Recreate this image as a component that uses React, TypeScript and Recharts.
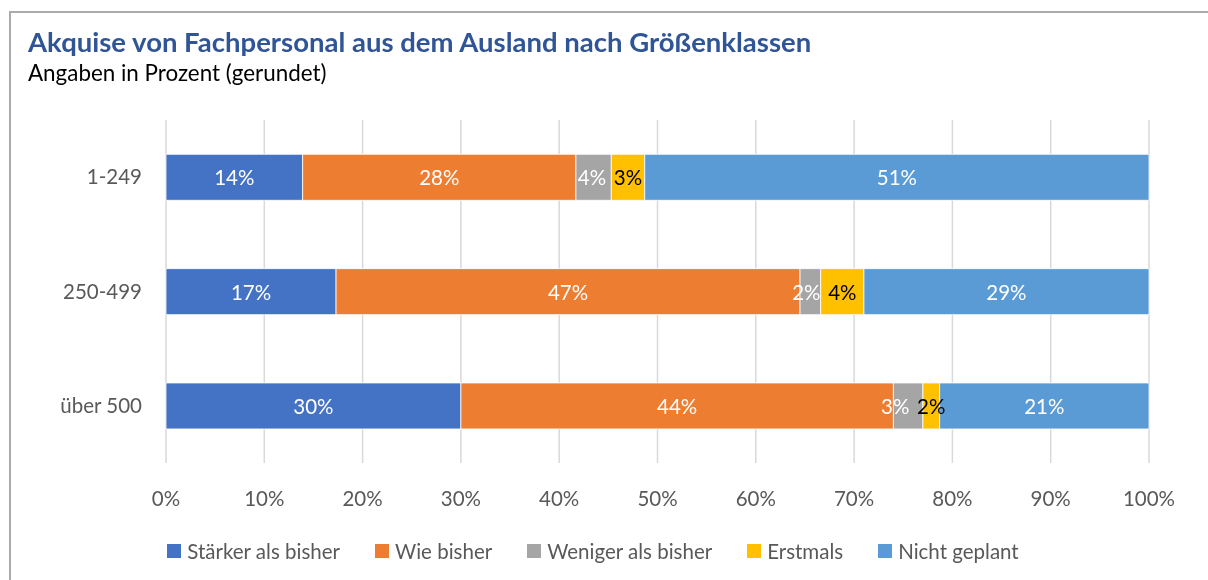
import React from 'react';
import { BarChart, Bar, XAxis, YAxis, CartesianGrid, LabelList, Legend } from 'recharts';

const categories = ['1-249', '250-499', 'über 500'];
const staerker = [13.9, 17.3, 30.0];
const wieBisher = [27.8, 47.2, 44.0];
const weniger = [3.6, 2.1, 3.0];
const erstmals = [3.4, 4.4, 1.7];
const nichtGeplant = [51.3, 29.0, 21.3];
const xTicks = [0, 10, 20, 30, 40, 50, 60, 70, 80, 90, 100];

const seriesNames = ['Stärker als bisher', 'Wie bisher', 'Weniger als bisher', 'Erstmals', 'Nicht geplant'];
const seriesKeys = ['s0', 's1', 's2', 's3', 's4'];
const seriesColors = ['#4472c4', '#ed7d31', '#a5a5a5', '#ffc000', '#5b9bd5'];
const labelColors = ['#ffffff', '#ffffff', '#ffffff', '#000000', '#ffffff'];
const seriesValues = [staerker, wieBisher, weniger, erstmals, nichtGeplant];

const data = categories.map((c, i) => {
  const row: any = { name: c };
  seriesKeys.forEach((k, j) => {
    row[k] = seriesValues[j][i];
  });
  return row;
});

const FONT = 'Lato, "DejaVu Sans", sans-serif';
const FS = 20.5;

const makeLabel = (j: number) => (props: any) => {
  const { x, y, width, height, value, index } = props;
  let cx = x + width / 2;
  if (j === 2 && value > 0) {
    // keep the small grey label clear of the neighbouring (yellow) label
    const nextW = (seriesValues[3][index] * width) / value;
    const nextCenter = x + width + nextW / 2;
    cx = Math.min(cx, nextCenter - 36);
  }
  return (
    <text
      x={cx}
      y={y + height / 2}
      fill={labelColors[j]}
      fontSize={FS}
      fontFamily={FONT}
      textAnchor="middle"
      dominantBaseline="central"
    >
      {`${Math.round(value)}%`}
    </text>
  );
};

const renderLegend = () => (
  <div
    style={{
      display: 'flex',
      justifyContent: 'center',
      alignItems: 'center',
      height: 26,
      paddingRight: 22,
      fontFamily: FONT,
      fontSize: FS,
      color: '#595959',
    }}
  >
    {seriesNames.map((n, i) => (
      <div key={n} style={{ display: 'flex', alignItems: 'center', marginRight: i < seriesNames.length - 1 ? 35 : 0 }}>
        <div style={{ width: 14, height: 14, background: seriesColors[i], marginRight: 6 }} />
        <span style={{ lineHeight: '26px' }}>{n}</span>
      </div>
    ))}
  </div>
);

export default function App() {
  return (
    <div style={{ position: 'relative', width: 1192, height: 564, background: '#fff' }}>
      <style>{`html, body { overflow: hidden; }`}</style>
      <div
        style={{
          position: 'fixed',
          left: 9,
          top: 11,
          width: 1400,
          height: 800,
          borderLeft: '2px solid #ababab',
          borderTop: '2px solid #ababab',
          pointerEvents: 'none',
        }}
      />
      <div
        style={{
          position: 'absolute',
          left: 20,
          top: 19.6,
          fontFamily: FONT,
          fontWeight: 700,
          fontSize: 27.5,
          lineHeight: 1,
          color: '#2f5597',
          whiteSpace: 'nowrap',
        }}
      >
        Akquise von Fachpersonal aus dem Ausland nach Größenklassen
      </div>
      <div
        style={{
          position: 'absolute',
          left: 20,
          top: 54.1,
          fontFamily: FONT,
          fontSize: 22.4,
          lineHeight: 1,
          color: '#000',
          whiteSpace: 'nowrap',
        }}
      >
        Angaben in Prozent (gerundet)
      </div>
      <div style={{ position: 'absolute', left: 0, top: 0 }}>
        <BarChart
          width={1192}
          height={564}
          data={data}
          layout="vertical"
          margin={{ top: 112, right: 51, bottom: 33, left: 0 }}
          barCategoryGap="30%"
        >
          <CartesianGrid horizontal={false} vertical={true} stroke="#d9d9d9" strokeWidth={1.5} />
          <XAxis
            type="number"
            domain={[0, 100]}
            ticks={xTicks}
            tickFormatter={(v: number) => `${v}%`}
            axisLine={false}
            tickLine={false}
            tickSize={0}
            tickMargin={28}
            height={50}
            tick={{ fill: '#595959', fontSize: FS, fontFamily: FONT }}
            interval={0}
          />
          <YAxis
            type="category"
            dataKey="name"
            width={158}
            axisLine={false}
            tickLine={false}
            tickSize={0}
            tickMargin={24}
            tick={{ fill: '#595959', fontSize: FS, fontFamily: FONT }}
          />
          <Legend
            verticalAlign="bottom"
            content={renderLegend}
            wrapperStyle={{ position: 'absolute', top: 530, bottom: 'auto', left: 0, width: 1192, height: 26 }}
          />
          {seriesKeys.map((k, j) => (
            <Bar
              key={k}
              dataKey={k}
              name={seriesNames[j]}
              stackId="a"
              fill={seriesColors[j]}
              stroke="#ffffff"
              strokeWidth={0.8}
              isAnimationActive={false}
            >
              <LabelList dataKey={k} content={makeLabel(j)} />
            </Bar>
          ))}
        </BarChart>
      </div>
    </div>
  );
}
